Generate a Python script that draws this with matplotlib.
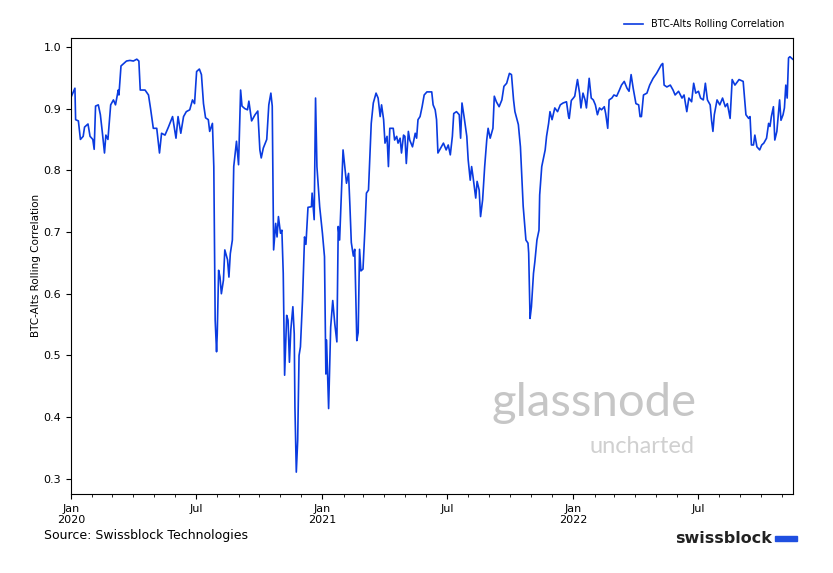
import matplotlib
matplotlib.use("Agg")
import matplotlib.pyplot as plt
import matplotlib.dates as mdates
import numpy as np
import pandas as pd

start = "2020-01-01"
days = [1,6,7,11,14,18,20,25,28,32,34,36,40,43,46,49,51,54,58,62,65,69,70,73,81,86,91,96,99,101,108,113,116,120,125,129,132,137,142,148,153,156,160,164,168,173,177,180,183,187,190,193,196,200,202,206,208,210,212,213,215,217,219,222,224,228,230,232,235,237,241,244,247,249,253,257,259,263,268,272,275,277,280,285,288,291,293,295,298,300,302,305,307,309,311,314,316,318,320,323,325,326,328,330,332,334,337,340,342,345,350,351,354,356,358,362,366,369,371,372,375,378,381,384,387,389,391,
        396,401,404,406,408,411,413,416,418,420,422,425,428,430,433,435,437,440,444,447,450,452,455,457,460,462,464,469,471,474,476,479,481,484,486,488,491,493,497,501,503,505,508,511,514,518,525,527,530,532,534,538,542,546,549,552,555,557,561,565,567,569,572,576,578,581,583,585,589,591,594,596,599,602,605,607,610,614,616,619,623,627,630,634,638,641,644,646,651,654,658,662,665,666,668,670,673,675,678,681,682,685,690,692,695,697,700,704,708,712,716,721,724,
        725,728,731,733,737,740,742,745,748,750,754,757,760,763,766,769,772,776,778,781,783,787,790,794,798,801,805,809,812,815,818,822,826,828,830,833,838,842,847,852,856,859,861,863,867,872,876,879,884,889,892,896,899,903,906,909,913,916,920,923,926,930,932,934,936,940,944,948,952,955,959,962,966,972,978,982,986,988,990,993,995,998,1002,1005,1008,1012,1015,1017,1019,1022,1024,1027,1031,1033,1036,1038,1040,1042,1044,1046,1050]
corr = [0.92,0.933,0.882,0.88,0.85,0.855,0.87,0.875,0.855,0.85,0.834,0.904,0.906,0.89,0.86,0.828,0.857,0.85,0.906,0.914,0.906,0.93,0.922,0.969,0.977,0.978,0.977,0.98,0.977,0.93,0.93,0.922,0.9,0.868,0.868,0.828,0.86,0.857,0.87,0.887,0.852,0.887,0.86,0.887,0.895,0.898,0.914,0.908,0.96,0.964,0.955,0.908,0.885,0.882,0.863,0.876,0.806,0.557,0.506,0.535,0.638,0.627,0.6,0.622,0.671,0.655,0.627,0.665,0.687,0.806,0.847,0.809,0.93,0.904,0.9,0.898,0.912,0.88,0.89,0.896,0.833,0.82,0.836,0.85,0.906,0.925,0.904,0.671,0.714,0.692,0.725,0.698,0.703,0.633,0.468,0.565,0.557,0.489,0.541,0.579,0.535,0.416,0.311,0.362,0.5,0.514,0.589,0.692,0.68,0.74,0.741,0.763,0.72,0.917,0.806,0.741,0.698,0.66,0.47,0.525,0.414,0.546,0.589,0.551,0.522,0.709,0.687,
        0.833,0.779,0.795,0.742,0.683,0.661,0.672,0.524,0.537,0.672,0.637,0.64,0.709,0.763,0.768,0.822,0.876,0.909,0.925,0.917,0.887,0.906,0.882,0.844,0.855,0.806,0.868,0.868,0.849,0.855,0.844,0.852,0.828,0.857,0.855,0.811,0.863,0.849,0.838,0.86,0.852,0.882,0.887,0.903,0.922,0.927,0.927,0.906,0.898,0.882,0.828,0.836,0.844,0.833,0.841,0.825,0.855,0.892,0.895,0.89,0.852,0.909,0.887,0.855,0.817,0.784,0.806,0.79,0.755,0.782,0.768,0.725,0.752,0.806,0.849,0.868,0.852,0.868,0.92,0.911,0.903,0.914,0.936,0.941,0.957,0.955,0.914,0.895,0.874,0.838,0.742,0.687,0.682,0.666,0.56,0.579,0.633,0.652,0.687,0.703,0.76,0.806,0.833,0.855,0.876,0.895,0.882,0.901,0.895,0.906,0.909,0.911,0.887,
        0.884,0.913,0.917,0.92,0.947,0.925,0.901,0.925,0.914,0.901,0.949,0.917,0.914,0.906,0.89,0.901,0.898,0.903,0.892,0.868,0.914,0.917,0.922,0.92,0.93,0.938,0.944,0.933,0.928,0.955,0.933,0.908,0.906,0.887,0.887,0.922,0.925,0.938,0.949,0.957,0.965,0.971,0.973,0.938,0.935,0.938,0.93,0.922,0.928,0.917,0.922,0.895,0.917,0.911,0.941,0.925,0.928,0.917,0.914,0.941,0.914,0.906,0.881,0.863,0.89,0.914,0.906,0.917,0.903,0.908,0.884,0.947,0.938,0.947,0.944,0.89,0.884,0.887,0.841,0.841,0.857,0.838,0.833,0.841,0.844,0.852,0.876,0.871,0.887,0.903,0.849,0.863,0.914,0.881,0.89,0.901,0.938,0.917,0.982,0.984,0.98]

dates = pd.Timestamp(start) + pd.to_timedelta(days, unit="D")

fig = plt.figure(figsize=(8.33, 5.73), dpi=100)
ax = fig.add_axes([0.085, 0.138, 0.867, 0.796])
ax.plot(dates, corr, color="#0a3be0", lw=1.2, label="BTC-Alts Rolling Correlation")
ax.set_xlim(pd.Timestamp("2020-01-01"), pd.Timestamp(start) + pd.Timedelta(days=1050.5))
ax.set_ylim(0.2757, 1.0146)
ax.set_yticks([0.3,0.4,0.5,0.6,0.7,0.8,0.9,1.0])
ax.tick_params(labelsize=8)
ax.set_ylabel("BTC-Alts Rolling Correlation", fontsize=7.5, labelpad=2)

ax.xaxis.set_major_locator(mdates.MonthLocator(bymonth=[1, 7]))
def fmt(x, pos=None):
    d = mdates.num2date(x)
    return f"Jan\n{d.year}" if d.month == 1 else "Jul"
ax.xaxis.set_major_formatter(plt.FuncFormatter(fmt))
ax.xaxis.set_minor_locator(mdates.MonthLocator())
ax.xaxis.set_minor_formatter(plt.NullFormatter())

ax.legend(loc="lower right", bbox_to_anchor=(1.0, 1.0), frameon=False, fontsize=7)

ax.text(0.866, 0.17, "glassnode", transform=ax.transAxes, ha="right", fontsize=34,
        color="#c6c6c6", zorder=0, family="Lato")
ax.text(0.864, 0.09, "uncharted", transform=ax.transAxes, ha="right", fontsize=17,
        color="#d0d0d0", zorder=0, family="Lato")

fig.text(0.053, 0.059, "Source: Swissblock Technologies", fontsize=9)
fig.text(0.81, 0.052, "swissblock", fontsize=11.5, fontweight="bold", color="#222222")
fig.patches.append(plt.Rectangle((0.930, 0.055), 0.027, 0.01, transform=fig.transFigure, color="#1f4fe0"))

fig.savefig("out.png", dpi=100)
